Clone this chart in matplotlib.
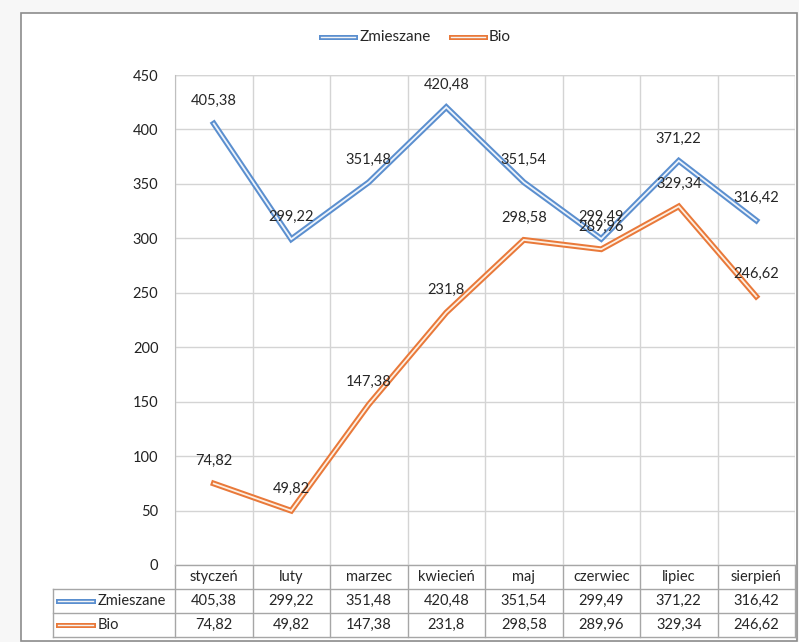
import matplotlib
matplotlib.use("Agg")
import matplotlib.pyplot as plt
from matplotlib.transforms import blended_transform_factory
from matplotlib.lines import Line2D
import matplotlib.patches as mpatches

plt.rcParams['font.family'] = ['Lato', 'DejaVu Sans']

categories = ["styczeń", "luty", "marzec", "kwiecień", "maj", "czerwiec", "lipiec", "sierpień"]
zmieszane = [405.38, 299.22, 351.48, 420.48, 351.54, 299.49, 371.22, 316.42]
bio = [74.82, 49.82, 147.38, 231.8, 298.58, 289.96, 329.34, 246.62]
zmieszane_lbl = ["405,38", "299,22", "351,48", "420,48", "351,54", "299,49", "371,22", "316,42"]
bio_lbl = ["74,82", "49,82", "147,38", "231,8", "298,58", "289,96", "329,34", "246,62"]
series_names = ["Zmieszane", "Bio"]
yticks = [0, 50, 100, 150, 200, 250, 300, 350, 400, 450]

W, H = 799, 642
fig = plt.figure(figsize=(W / 100, H / 100), dpi=100)
fig.patch.set_facecolor("#f7f7f7")

def fx(x):
    return x / W

def fy(y):
    return 1 - y / H

# chart frame
frame = mpatches.Rectangle((fx(21), fy(641)), fx(797) - fx(21), fy(13) - fy(641),
                           transform=fig.transFigure, facecolor="white",
                           edgecolor="#8c8c8c", lw=1.2, zorder=-5)
fig.patches.append(frame)

left, right, top, bottom = 175, 795, 75, 565
ax = fig.add_axes([fx(left), fy(bottom), fx(right) - fx(left), fy(top) - fy(bottom)])
ax.set_zorder(2)
ax.set_facecolor("none")
n = len(categories)
ax.set_xlim(-0.5, n - 0.5)
ax.set_ylim(0, 450)
ax.set_yticks(yticks)
ax.set_yticklabels([str(t) for t in yticks], fontsize=10.5, color="#222222")
ax.tick_params(axis="y", length=0, pad=12)
ax.set_xticks([])
ax.grid(axis="y", color="#d4d4d4", lw=1)
ax.set_axisbelow(True)
for b in range(n + 1):
    ax.axvline(b - 0.5, color="#d4d4d4", lw=1, zorder=0)
for s in ["top", "right", "bottom"]:
    ax.spines[s].set_visible(False)
ax.spines["left"].set_color("#bfbfbf")
ax.axhline(450, color="#d4d4d4", lw=1, zorder=0)

blue = "#5b8fcf"
orange = "#e9793a"
xs = list(range(n))

def compound(axis, x, y, color):
    axis.plot(x, y, color=color, lw=4.2, solid_joinstyle="miter", zorder=3)
    axis.plot(x, y, color="#eef4fb" if color == blue else "#fdf0e3", lw=1.3,
              solid_joinstyle="miter", zorder=4)

compound(ax, xs, zmieszane, blue)
compound(ax, xs, bio, orange)

for x, v, t in zip(xs, zmieszane, zmieszane_lbl):
    ax.annotate(t, (x, v), xytext=(0, 16), textcoords="offset points",
                ha="center", va="center", fontsize=10.5, color="#262626", zorder=5)
for x, v, t in zip(xs, bio, bio_lbl):
    ax.annotate(t, (x, v), xytext=(0, 16), textcoords="offset points",
                ha="center", va="center", fontsize=10.5, color="#262626", zorder=5)

# legend at top
lg_y = fy(37)
def legend_key(x0, x1, y, color):
    fig.add_artist(Line2D([x0, x1], [y, y], color=color, lw=3.6, transform=fig.transFigure))
    fig.add_artist(Line2D([x0, x1], [y, y], color="#f4f4f4", lw=1.0, transform=fig.transFigure))

legend_key(fx(321), fx(355), lg_y, blue)
fig.text(fx(360), lg_y, series_names[0], fontsize=11, va="center", ha="left", color="#262626")
legend_key(fx(451), fx(485), lg_y, orange)
fig.text(fx(489), lg_y, series_names[1], fontsize=11, va="center", ha="left", color="#262626")

# data table
tr = blended_transform_factory(ax.transData, fig.transFigure)
row_edges = [565, 589, 613, 637]
gridc = "#a6a6a6"
fig.add_artist(Line2D([fx(left), fx(right)], [fy(row_edges[0])] * 2, color=gridc, lw=1, transform=fig.transFigure))
for r in row_edges[1:]:
    fig.add_artist(Line2D([fx(53), fx(right)], [fy(r)] * 2, color=gridc, lw=1, transform=fig.transFigure))
for b in range(n + 1):
    fig.add_artist(Line2D([b - 0.5, b - 0.5], [fy(row_edges[0]), fy(row_edges[-1])], color=gridc, lw=1, transform=tr))
fig.add_artist(Line2D([fx(53), fx(53)], [fy(row_edges[1]), fy(row_edges[-1])], color=gridc, lw=1, transform=fig.transFigure))

def row_mid(i):
    return fy((row_edges[i] + row_edges[i + 1]) / 2)

for x, c in zip(xs, categories):
    fig.text(x, row_mid(0), c, transform=tr, ha="center", va="center", fontsize=10.5, color="#262626")
for x, t in zip(xs, zmieszane_lbl):
    fig.text(x, row_mid(1), t, transform=tr, ha="center", va="center", fontsize=10.5, color="#262626")
for x, t in zip(xs, bio_lbl):
    fig.text(x, row_mid(2), t, transform=tr, ha="center", va="center", fontsize=10.5, color="#262626")

legend_key(fx(58), fx(93), row_mid(1), blue)
fig.text(fx(98), row_mid(1), series_names[0], fontsize=10.5, va="center", ha="left", color="#262626")
legend_key(fx(58), fx(93), row_mid(2), orange)
fig.text(fx(98), row_mid(2), series_names[1], fontsize=10.5, va="center", ha="left", color="#262626")

fig.savefig("out.png", dpi=100, facecolor=fig.get_facecolor())
